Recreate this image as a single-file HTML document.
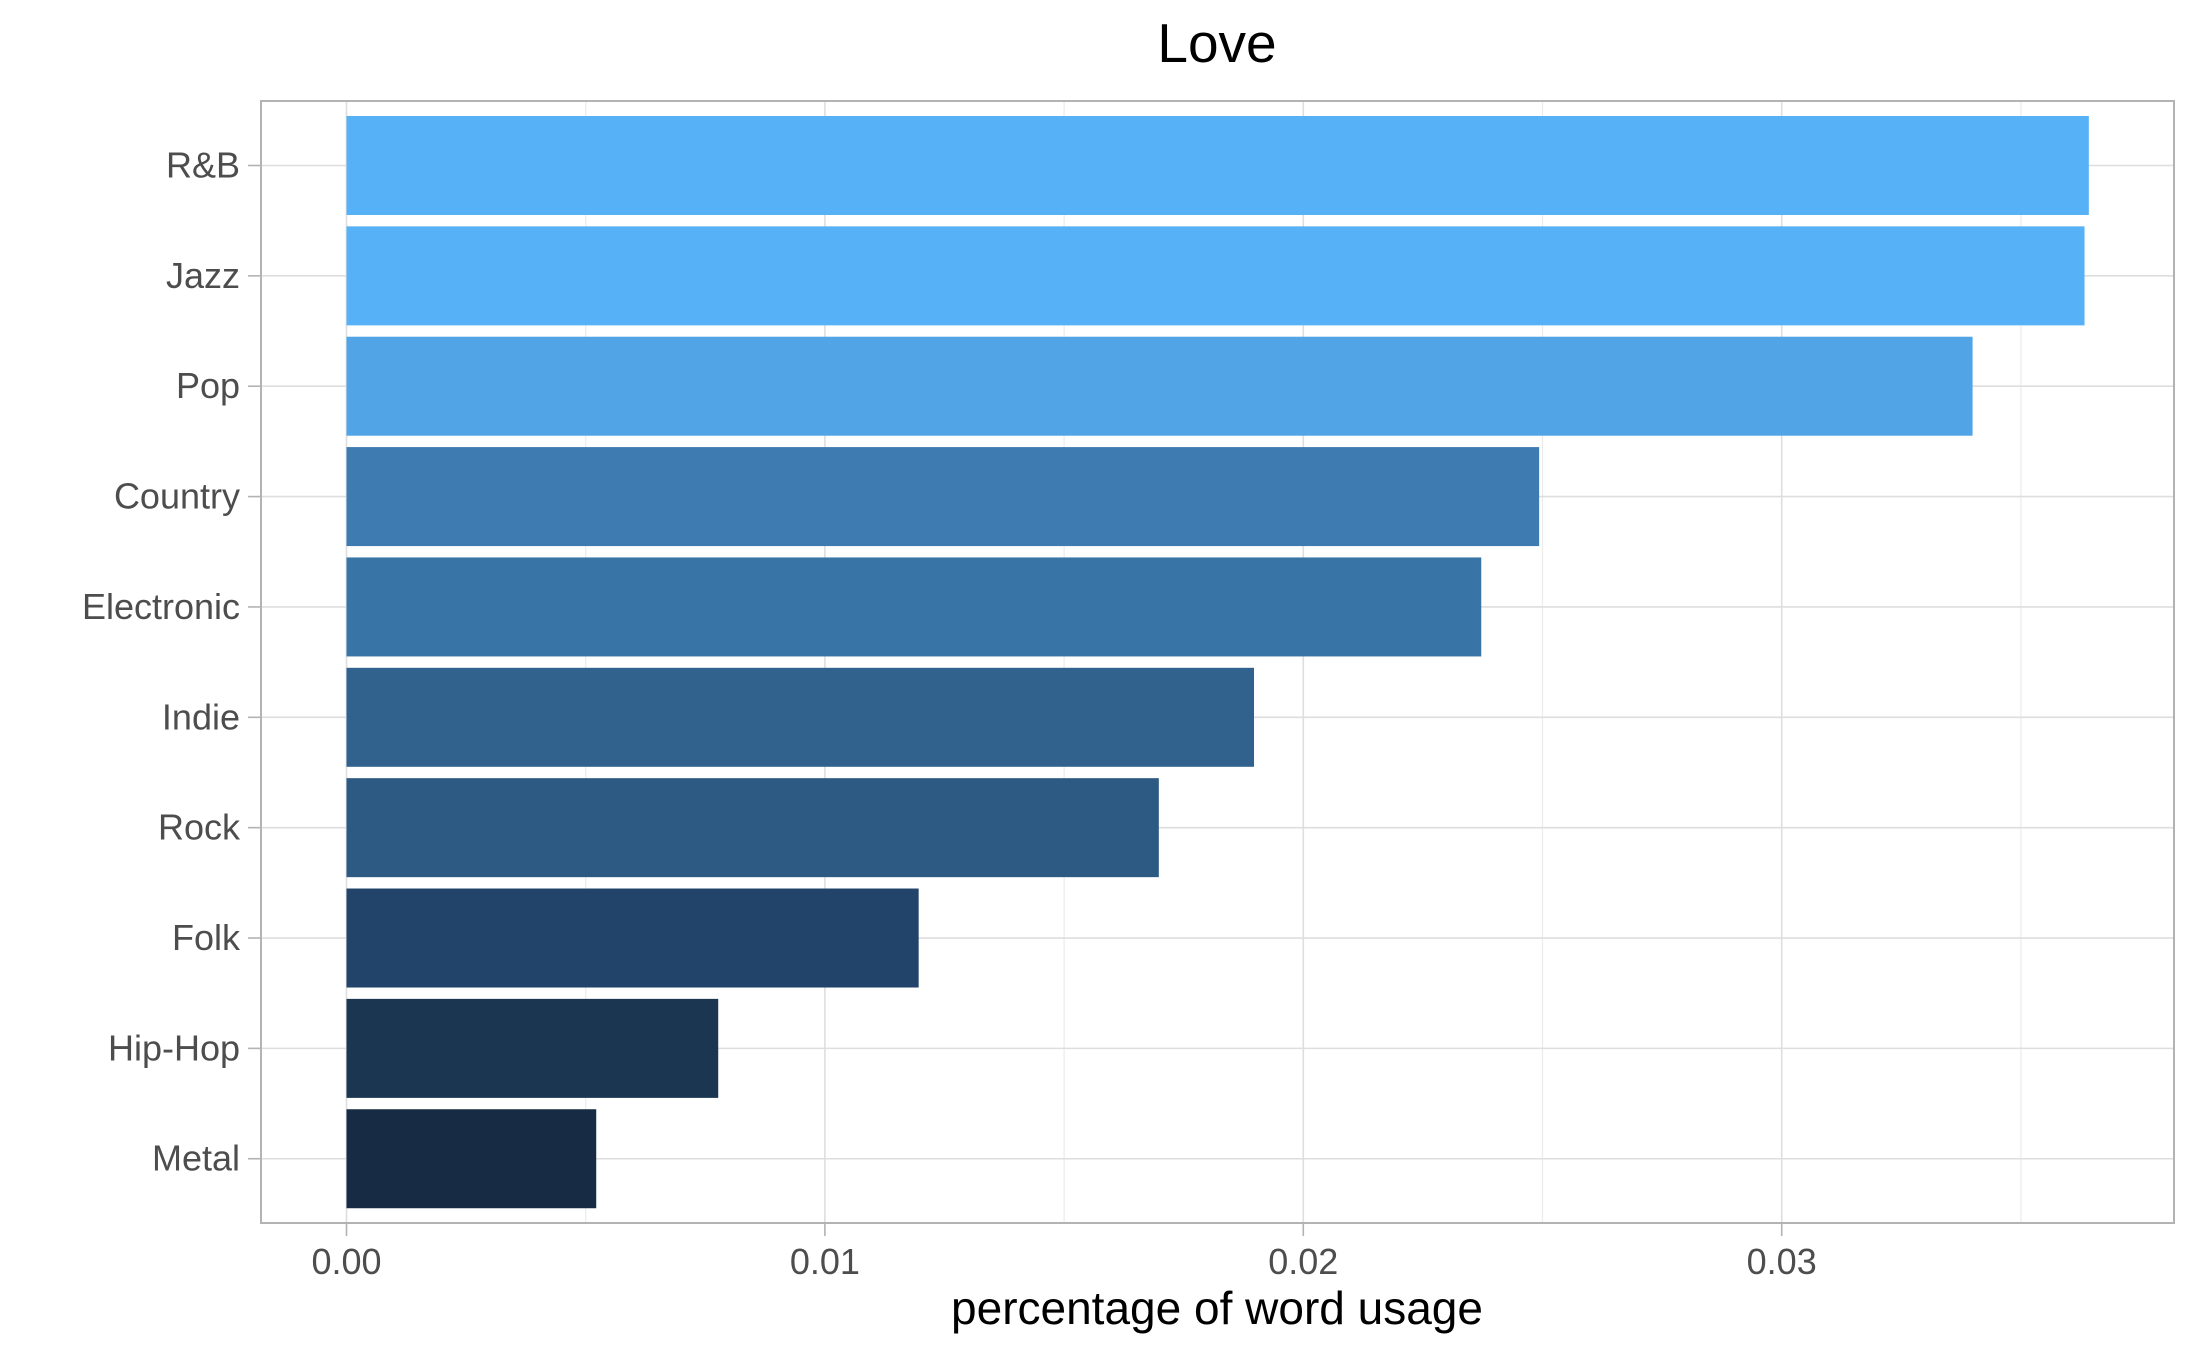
<!DOCTYPE html>
<html><head><meta charset="utf-8"><style>
html,body{margin:0;padding:0;background:#fff;}
svg{display:block;font-family:"Liberation Sans",sans-serif;}
</style></head><body>
<svg id="chart" width="2187" height="1350" xmlns="http://www.w3.org/2000/svg">
<text x="1217" y="62" font-size="55" text-anchor="middle" fill="#000">Love</text>
<g id="grid"></g><g id="bars"></g><g id="axes"></g>
<text x="1217" y="1324" font-size="46" text-anchor="middle" fill="#000">percentage of word usage</text>
</svg>
<script>
const categories = ["R&B","Jazz","Pop","Country","Electronic","Indie","Rock","Folk","Hip-Hop","Metal"];
const values = [0.03642,0.03633,0.03399,0.02493,0.02372,0.01897,0.01698,0.01196,0.00777,0.00522];
const colors = ["#56b1f7","#56b1f7","#51a5e6","#3d7bb0","#3875a6","#30628d","#2c5a82","#22446a","#1a3651","#172b44"];
const xTicks = [0,0.01,0.02,0.03];
const xTickLabels = ["0.00","0.01","0.02","0.03"];
const xMinor = [0.005,0.015,0.025,0.035];

const NS="http://www.w3.org/2000/svg";
const L=261,R=2174,T=101,B=1223;
const x=v=>346.5+v*47840;
const yc=i=>165.5+i*110.36;
const bh=99;
function mk(tag,attrs,parent){const e=document.createElementNS(NS,tag);for(const k in attrs)e.setAttribute(k,attrs[k]);parent.appendChild(e);return e;}
const grid=document.getElementById('grid'),bars=document.getElementById('bars'),axes=document.getElementById('axes');
xMinor.forEach(v=>{const l=mk('line',{x1:x(v),x2:x(v),y1:T,y2:B,stroke:'#ebebeb','stroke-width':1.2},grid);

});
xTicks.forEach(v=>{const l=mk('line',{x1:x(v),x2:x(v),y1:T,y2:B,stroke:'#dedede','stroke-width':1.6},grid);

});
categories.forEach((c,i)=>{const l=mk('line',{x1:L,x2:R,y1:yc(i),y2:yc(i),stroke:'#dedede','stroke-width':1.6},grid);

});
categories.forEach((c,i)=>{
 const r=mk('rect',{x:x(0),y:yc(i)-bh/2,width:x(values[i])-x(0),height:bh,fill:colors[i]},bars);
 
 
 const t=mk('line',{x1:L-13,x2:L,y1:yc(i),y2:yc(i),stroke:'#b3b3b3','stroke-width':1.6},axes);
 
 
 const tx=mk('text',{x:240,y:yc(i)+12,'font-size':36,'text-anchor':'end',fill:'#4d4d4d'},axes);
 tx.textContent=c;
 
 
});
const fr=mk('rect',{x:L,y:T,width:R-L,height:B-T,fill:'none',stroke:'#b3b3b3','stroke-width':2},axes);


xTicks.forEach((v,i)=>{
 const t=mk('line',{x1:x(v),x2:x(v),y1:B,y2:B+13,stroke:'#b3b3b3','stroke-width':1.6},axes);
 
 
 const tx=mk('text',{x:x(v),y:1274,'font-size':36,'text-anchor':'middle',fill:'#4d4d4d'},axes);
 tx.textContent=xTickLabels[i];
 
 
});
</script>
</body></html>
